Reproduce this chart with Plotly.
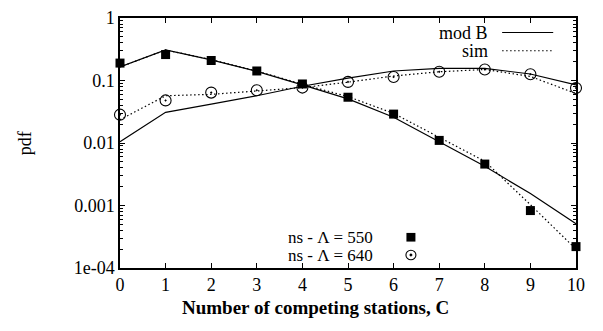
import plotly.graph_objects as go

# Number of competing stations
stations = list(range(11))

# Lambda = 550
mod_b_550 = [0.165, 0.308, 0.214, 0.14, 0.085, 0.0507, 0.0258, 0.0105, 0.00424, 0.00155, 0.00051]
sim_550 = [0.165, 0.308, 0.216, 0.142, 0.087, 0.0552, 0.0298, 0.0123, 0.0051, 0.00103, 0.0002]
ns_550 = [0.19, 0.26, 0.209, 0.142, 0.088, 0.054, 0.029, 0.011, 0.0046, 0.00083, 0.00022]

# Lambda = 640
mod_b_640 = [0.0105, 0.031, 0.042, 0.057, 0.081, 0.109, 0.142, 0.156, 0.156, 0.127, 0.085]
sim_640 = [0.0236, 0.057, 0.060, 0.068, 0.077, 0.094, 0.118, 0.138, 0.150, 0.116, 0.062]
ns_640 = [0.0284, 0.048, 0.064, 0.070, 0.077, 0.095, 0.114, 0.138, 0.150, 0.126, 0.076]

y_tickvals = [1e-4, 1e-3, 1e-2, 1e-1, 1]
y_ticktext = ["1e-04", "0.001", "0.01", "0.1", "1"]
x_ticks = list(range(11))

FONT = "Liberation Serif"
BLACK = "#000000"
DOTTED = "1.5px,2.5px"

fig = go.Figure()

for ys in (mod_b_550, mod_b_640):
    fig.add_trace(go.Scatter(x=stations, y=ys, mode="lines",
                             line=dict(color=BLACK, width=1.2), showlegend=False))
for ys in (sim_550, sim_640):
    fig.add_trace(go.Scatter(x=stations, y=ys, mode="lines",
                             line=dict(color=BLACK, width=1.2, dash=DOTTED), showlegend=False))

fig.add_trace(go.Scatter(x=stations, y=ns_550, mode="markers",
                         marker=dict(symbol="square", size=9, color=BLACK),
                         showlegend=False, cliponaxis=False))
fig.add_trace(go.Scatter(x=stations, y=ns_640, mode="markers",
                         marker=dict(symbol="circle-open-dot", size=11, color=BLACK,
                                     line=dict(width=1.1, color=BLACK)),
                         showlegend=False, cliponaxis=False))

axis_common = dict(
    showline=True, linecolor=BLACK, linewidth=1.5, mirror="ticks",
    ticks="inside", ticklen=5, tickwidth=1, tickcolor=BLACK,
    showgrid=False, zeroline=False,
    tickfont=dict(family=FONT, size=18, color=BLACK),
)

fig.update_xaxes(range=[0, 10], tickvals=x_ticks, **axis_common)
fig.update_yaxes(type="log", range=[-4, 0], tickvals=y_tickvals, ticktext=y_ticktext,
                 minor=dict(ticks="inside", ticklen=3, tickcolor=BLACK, dtick="D1", showgrid=False),
                 **axis_common)

def paper_text(txt, x, y, size=18, xanchor="right", angle=0):
    fig.add_annotation(text=txt, x=x, y=y, xref="paper", yref="paper",
                       xanchor=xanchor, yanchor="middle", showarrow=False, textangle=angle,
                       font=dict(family=FONT, size=size, color=BLACK))

# Axis titles
paper_text("<b>Number of competing stations, C</b>", 0.428, -0.156, size=19, xanchor="center")
paper_text("pdf", -0.208, 0.5, size=18, xanchor="center", angle=-90)

# Key: text on the left, line/marker sample on the right
paper_text("mod B", 0.812, 0.942)
paper_text("sim", 0.812, 0.869)
fig.add_shape(type="line", xref="paper", yref="paper", x0=0.838, x1=0.95, y0=0.942, y1=0.942,
              line=dict(color=BLACK, width=1.2))
fig.add_shape(type="line", xref="paper", yref="paper", x0=0.838, x1=0.95, y0=0.869, y1=0.869,
              line=dict(color=BLACK, width=1.2, dash=DOTTED))

KEY_Y1, KEY_Y2 = 0.123, 0.052
paper_text("ns - \u039b = 550", 0.56, KEY_Y1, size=17)
paper_text("ns - \u039b = 640", 0.56, KEY_Y2, size=17)
sq_w, sq_h = 9 / 456, 9 / 260
fig.add_shape(type="rect", xref="paper", yref="paper",
              x0=0.638 - sq_w / 2, x1=0.638 + sq_w / 2, y0=KEY_Y1 - sq_h / 2, y1=KEY_Y1 + sq_h / 2,
              fillcolor=BLACK, line=dict(width=0))
c_w, c_h = 10 / 456, 10 / 260
fig.add_shape(type="circle", xref="paper", yref="paper",
              x0=0.638 - c_w / 2, x1=0.638 + c_w / 2, y0=KEY_Y2 - c_h / 2, y1=KEY_Y2 + c_h / 2,
              line=dict(color=BLACK, width=1.1))
d_w, d_h = 2.4 / 456, 2.4 / 260
fig.add_shape(type="circle", xref="paper", yref="paper",
              x0=0.638 - d_w / 2, x1=0.638 + d_w / 2, y0=KEY_Y2 - d_h / 2, y1=KEY_Y2 + d_h / 2,
              fillcolor=BLACK, line=dict(color=BLACK, width=0.5))

fig.update_layout(
    width=603, height=331,
    margin=dict(l=120, r=27, t=8, b=63),
    paper_bgcolor="white", plot_bgcolor="white",
    font=dict(family=FONT, color=BLACK),
)

fig.write_html("out.html")
